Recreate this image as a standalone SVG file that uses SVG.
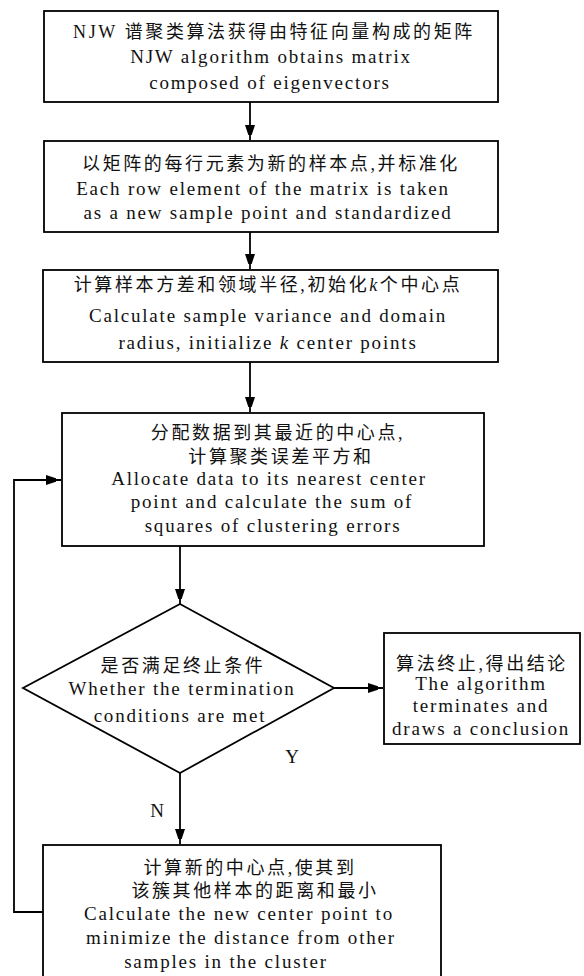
<svg xmlns="http://www.w3.org/2000/svg" width="584" height="976" viewBox="0 0 584 976">
  <style>
    .box { fill: #ffffff; stroke: #000000; stroke-width: 1.8; }
    .line { fill: none; stroke: #000000; stroke-width: 1.8; }
    text { font-family: "Liberation Serif", "Noto Sans CJK SC", serif; fill: #111111; text-anchor: middle; }
    .zh { font-size: 18px; letter-spacing: 2.6px; }
    .en { font-size: 19px; letter-spacing: 1.8px; }
    .lbl { font-size: 19px; }
  </style>
  <defs>
    <marker id="arrow" markerWidth="10" markerHeight="16" refX="15" refY="5" orient="auto" markerUnits="userSpaceOnUse">
      <path d="M0,0 L15,5 L0,10 Z" fill="#000000"/>
    </marker>
  </defs>

  <rect width="584" height="976" fill="#ffffff"/>

  <g id="connectors">
    <line class="line" x1="250" y1="102" x2="250" y2="140" marker-end="url(#arrow)"/>
    <line class="line" x1="250" y1="232" x2="250" y2="269" marker-end="url(#arrow)"/>
    <line class="line" x1="250" y1="362" x2="250" y2="412" marker-end="url(#arrow)"/>
    <line class="line" x1="180" y1="546" x2="180" y2="604" marker-end="url(#arrow)"/>
    <line class="line" x1="334" y1="688" x2="383" y2="688" marker-end="url(#arrow)"/>
    <line class="line" x1="180" y1="773" x2="180" y2="844" marker-end="url(#arrow)"/>
    <polyline class="line" points="43,912 14,912 14,480 61,480" marker-end="url(#arrow)"/>
    <text class="lbl" x="292" y="763">Y</text>
    <text class="lbl" x="157" y="817">N</text>
  </g>

  <g id="node-eigen">
    <rect class="box" x="44" y="11" width="454" height="91"/>
    <text class="zh" x="274" y="38">NJW 谱聚类算法获得由特征向量构成的矩阵</text>
    <text class="en" x="271" y="63">NJW algorithm obtains matrix</text>
    <text class="en" x="270" y="89">composed of eigenvectors</text>
  </g>

  <g id="node-normalize">
    <rect class="box" x="44" y="141" width="454" height="91"/>
    <text class="zh" x="271" y="170">以矩阵的每行元素为新的样本点,并标准化</text>
    <text class="en" x="263" y="195">Each row element of the matrix is taken</text>
    <text class="en" x="268" y="219">as a new sample point and standardized</text>
  </g>

  <g id="node-init">
    <rect class="box" x="43" y="270" width="455" height="92"/>
    <text class="zh" x="268" y="291">计算样本方差和领域半径,初始化<tspan font-style="italic">k</tspan>个中心点</text>
    <text class="en" x="268" y="322">Calculate sample variance and domain</text>
    <text class="en" x="268" y="349">radius, initialize <tspan font-style="italic">k</tspan> center points</text>
  </g>

  <g id="node-assign">
    <rect class="box" x="62" y="413" width="422" height="133"/>
    <text class="zh" x="278" y="439">分配数据到其最近的中心点,</text>
    <text class="zh" x="281" y="463">计算聚类误差平方和</text>
    <text class="en" x="269" y="485">Allocate data to its nearest center</text>
    <text class="en" x="272" y="508">point and calculate the sum of</text>
    <text class="en" x="273" y="532">squares of clustering errors</text>
  </g>

  <g id="node-check">
    <polygon class="box" points="180,604 334,688 180,773 23,688"/>
    <text class="zh" x="183" y="672">是否满足终止条件</text>
    <text class="en" x="182" y="695">Whether the termination</text>
    <text class="en" x="180" y="722">conditions are met</text>
  </g>

  <g id="node-end">
    <rect class="box" x="384" y="633" width="196" height="111"/>
    <text class="zh" x="482" y="670">算法终止,得出结论</text>
    <text class="en" x="481" y="690">The algorithm</text>
    <text class="en" x="481" y="712">terminates and</text>
    <text class="en" x="481" y="735">draws a conclusion</text>
  </g>

  <g id="node-update">
    <rect class="box" x="43" y="845" width="398" height="140"/>
    <text class="zh" x="250" y="874">计算新的中心点,使其到</text>
    <text class="zh" x="255" y="897">该簇其他样本的距离和最小</text>
    <text class="en" x="239" y="920">Calculate the new center point to</text>
    <text class="en" x="241" y="944">minimize the distance from other</text>
    <text class="en" x="226" y="968">samples in the cluster</text>
  </g>
</svg>
